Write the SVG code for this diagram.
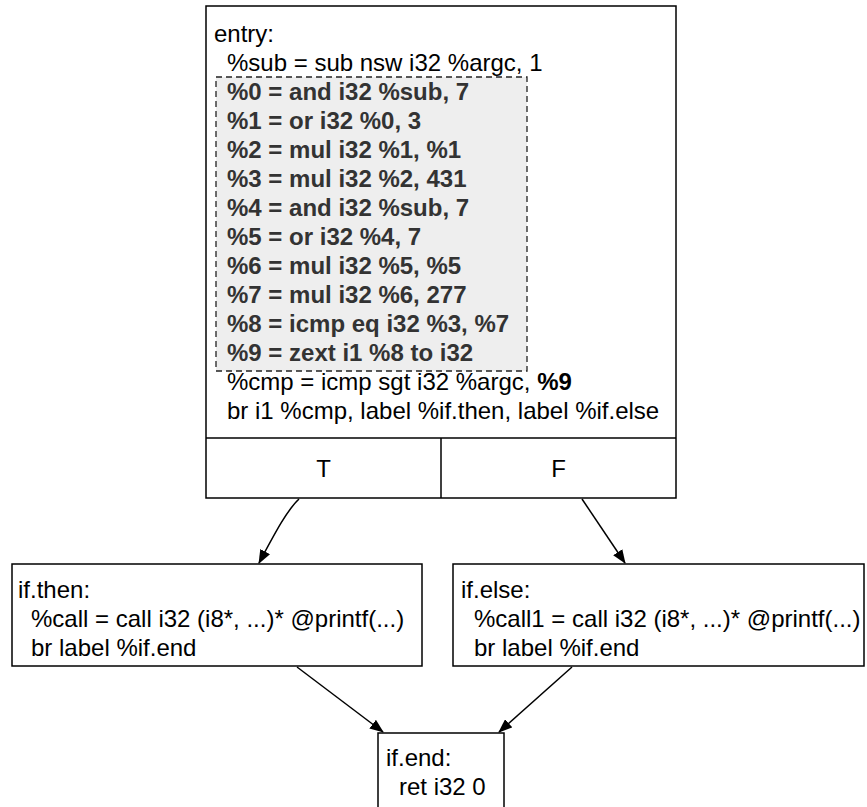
<svg xmlns="http://www.w3.org/2000/svg" width="867" height="807" viewBox="0 0 867 807">
  <style>
    .box { fill: #ffffff; stroke: #000000; stroke-width: 1.5; }
    .txt { font-family: "Liberation Sans", Arial, Helvetica, sans-serif; font-size: 24px; fill: #000000; }
    .b { font-weight: bold; fill: #333333; }
    .hl { fill: #eeeeee; stroke: #222222; stroke-width: 1.3; stroke-dasharray: 6 4; }
    .edge { fill: none; stroke: #000000; stroke-width: 1.5; }
    .mid { text-anchor: middle; }
  </style>
  <defs>
    <marker id="arrow" viewBox="0 0 14 11" refX="13" refY="5.5" markerWidth="14" markerHeight="11" markerUnits="userSpaceOnUse" orient="auto">
      <path d="M0,0 L14,5.5 L0,11 z" fill="#000000"/>
    </marker>
  </defs>

  <rect width="867" height="807" fill="#ffffff"/>

  <!-- entry block: instruction list, highlighted region, T/F branch cells -->
  <g id="entry">
    <rect class="box" x="206" y="6" width="470" height="492"/>
    <rect class="hl" x="216" y="77" width="311" height="294"/>
    <line class="box" x1="206" y1="438" x2="676" y2="438"/>
    <line class="box" x1="441" y1="438" x2="441" y2="498"/>
    <g class="txt">
      <text x="214" y="42">entry:</text>
      <text x="227" y="71">%sub = sub nsw i32 %argc, 1</text>
      <g class="b">
        <text x="227" y="100">%0 = and i32 %sub, 7</text>
        <text x="227" y="129">%1 = or i32 %0, 3</text>
        <text x="227" y="158">%2 = mul i32 %1, %1</text>
        <text x="227" y="187">%3 = mul i32 %2, 431</text>
        <text x="227" y="216">%4 = and i32 %sub, 7</text>
        <text x="227" y="245">%5 = or i32 %4, 7</text>
        <text x="227" y="274">%6 = mul i32 %5, %5</text>
        <text x="227" y="303">%7 = mul i32 %6, 277</text>
        <text x="227" y="332">%8 = icmp eq i32 %3, %7</text>
        <text x="227" y="361">%9 = zext i1 %8 to i32</text>
      </g>
      <text x="227" y="390">%cmp = icmp sgt i32 %argc, <tspan font-weight="bold">%9</tspan></text>
      <text x="227" y="419">br i1 %cmp, label %if.then, label %if.else</text>
      <text class="mid" x="323.5" y="477">T</text>
      <text class="mid" x="558.5" y="477">F</text>
    </g>
  </g>

  <g id="if.then">
    <rect class="box" x="12" y="564" width="410" height="102"/>
    <g class="txt">
      <text x="18" y="598">if.then:</text>
      <text x="31" y="627">%call = call i32 (i8*, ...)* @printf(...)</text>
      <text x="31" y="656">br label %if.end</text>
    </g>
  </g>

  <g id="if.else">
    <rect class="box" x="453" y="564" width="411" height="102"/>
    <g class="txt">
      <text x="461" y="598">if.else:</text>
      <text x="474" y="627">%call1 = call i32 (i8*, ...)* @printf(...)</text>
      <text x="474" y="656">br label %if.end</text>
    </g>
  </g>

  <g id="if.end">
    <rect class="box" x="378" y="733" width="126" height="90"/>
    <g class="txt">
      <text x="386" y="766">if.end:</text>
      <text x="399" y="795">ret i32 0</text>
    </g>
  </g>

  <g id="connectors">
    <path class="edge" marker-end="url(#arrow)" d="M299,499 C287,510 274,535 259,563"/>
    <path class="edge" marker-end="url(#arrow)" d="M582,499 L625,563"/>
    <path class="edge" marker-end="url(#arrow)" d="M297,667 L383,732"/>
    <path class="edge" marker-end="url(#arrow)" d="M572,667 L499,732"/>
  </g>
</svg>
